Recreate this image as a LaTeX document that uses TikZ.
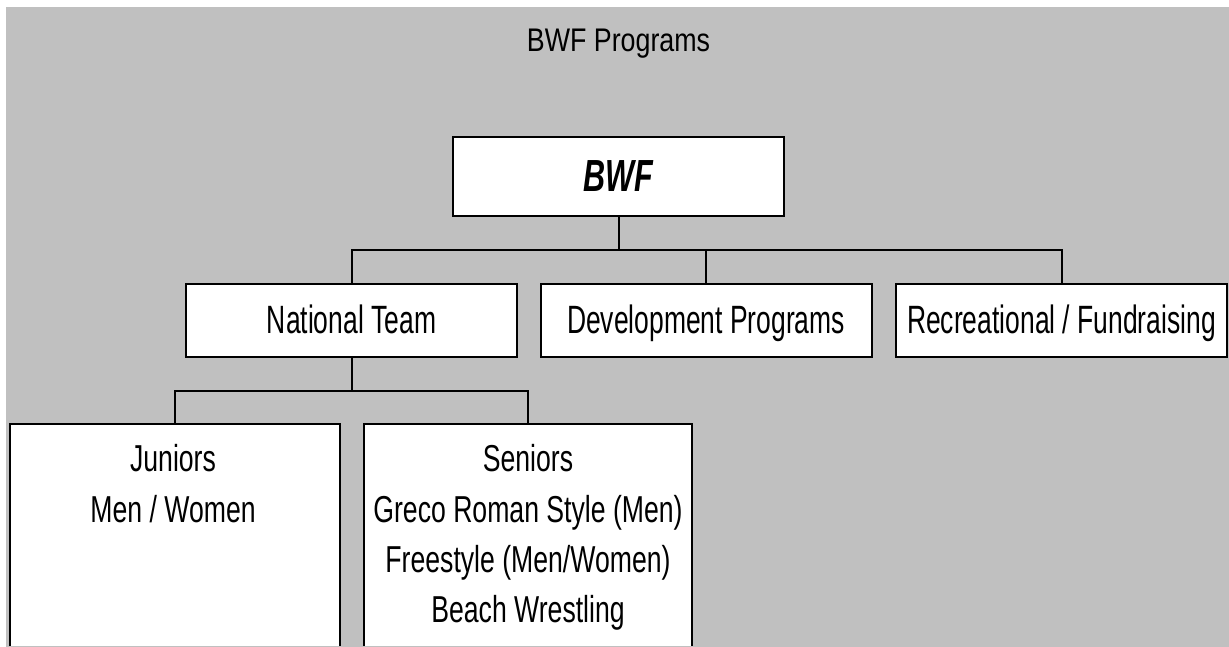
\documentclass[tikz,border=0pt]{standalone}
\usepackage{fontspec}
\setmainfont{Liberation Sans}
\newfontfamily\midfont{Liberation Sans}[FakeStretch=0.67]
\newfontfamily\lowfont{Liberation Sans}[FakeStretch=0.71]
\newfontfamily\headfont{Liberation Sans}[FakeStretch=0.82]
\newfontfamily\topfont{Liberation Sans}[FakeStretch=0.68]
\definecolor{bggray}{RGB}{192,192,192}
\begin{document}
\begin{tikzpicture}[x=1pt,y=-1pt,
  box/.style={draw=black, fill=white, line width=2pt, inner sep=0pt, minimum width=331pt},
  midbox/.style={box, minimum height=73pt, text height=25pt, text depth=0pt,
     font=\midfont\fontsize{39.5}{46}\selectfont},
  lowbox/.style={box, anchor=north, minimum height=260pt},
  lowtext/.style={anchor=base, inner sep=0pt, font=\lowfont\fontsize{37.5}{45}\selectfont},
  conn/.style={draw=black, line width=2pt}]
\useasboundingbox (0,0) rectangle (1229,647);
\fill[white] (0,0) rectangle (1229,647);
\fill[bggray] (6,7) rectangle (1229,647);
\node[anchor=base, inner sep=0pt, font=\headfont\fontsize{32.7}{39}\selectfont] (title) at (618.5,51.7) {BWF Programs};
\node[box, minimum height=79pt, text height=30.4pt, text depth=0pt,
      font=\topfont\fontsize{45}{54}\selectfont\bfseries\itshape] (bwf) at (618.5,176.5) {BWF};
\node[midbox] (nt) at (351.5,320.5) {National Team};
\node[midbox] (dev) at (706,320.5) {Development Programs};
\node[midbox] (rec) at (1061.5,320.5) {Recreational / Fundraising};
\coordinate (bus1) at (618.5,250);
\draw[conn] (bwf.south) -- (bus1);
\draw[conn] (nt.north) |- (rec.north |- bus1) -- (rec.north);
\draw[conn] (dev.north) -- (dev.north |- bus1);
\coordinate (bus2) at (351.5,391);
\draw[conn] (nt.south) -- (bus2);
\begin{scope}
\clip (0,0) rectangle (1229,645.5);
\node[lowbox, minimum width=330pt] (jun) at (175,423) {};
\node[lowbox, minimum width=328pt] (sen) at (528,423) {};
\end{scope}
\draw[conn] (jun.north) |- (sen.north |- bus2) -- (sen.north);
\node[lowtext] (jun1) at (173,471.7) {Juniors};
\node[lowtext] (jun2) at (173,522.4) {Men / Women};
\node[lowtext] (sen1) at (528,471.7) {Seniors};
\node[lowtext] (sen2) at (528,522) {Greco Roman Style (Men)};
\node[lowtext] (sen3) at (528,572.3) {Freestyle (Men/Women)};
\node[lowtext] (sen4) at (528,622.5) {Beach Wrestling};
\end{tikzpicture}
\end{document}
